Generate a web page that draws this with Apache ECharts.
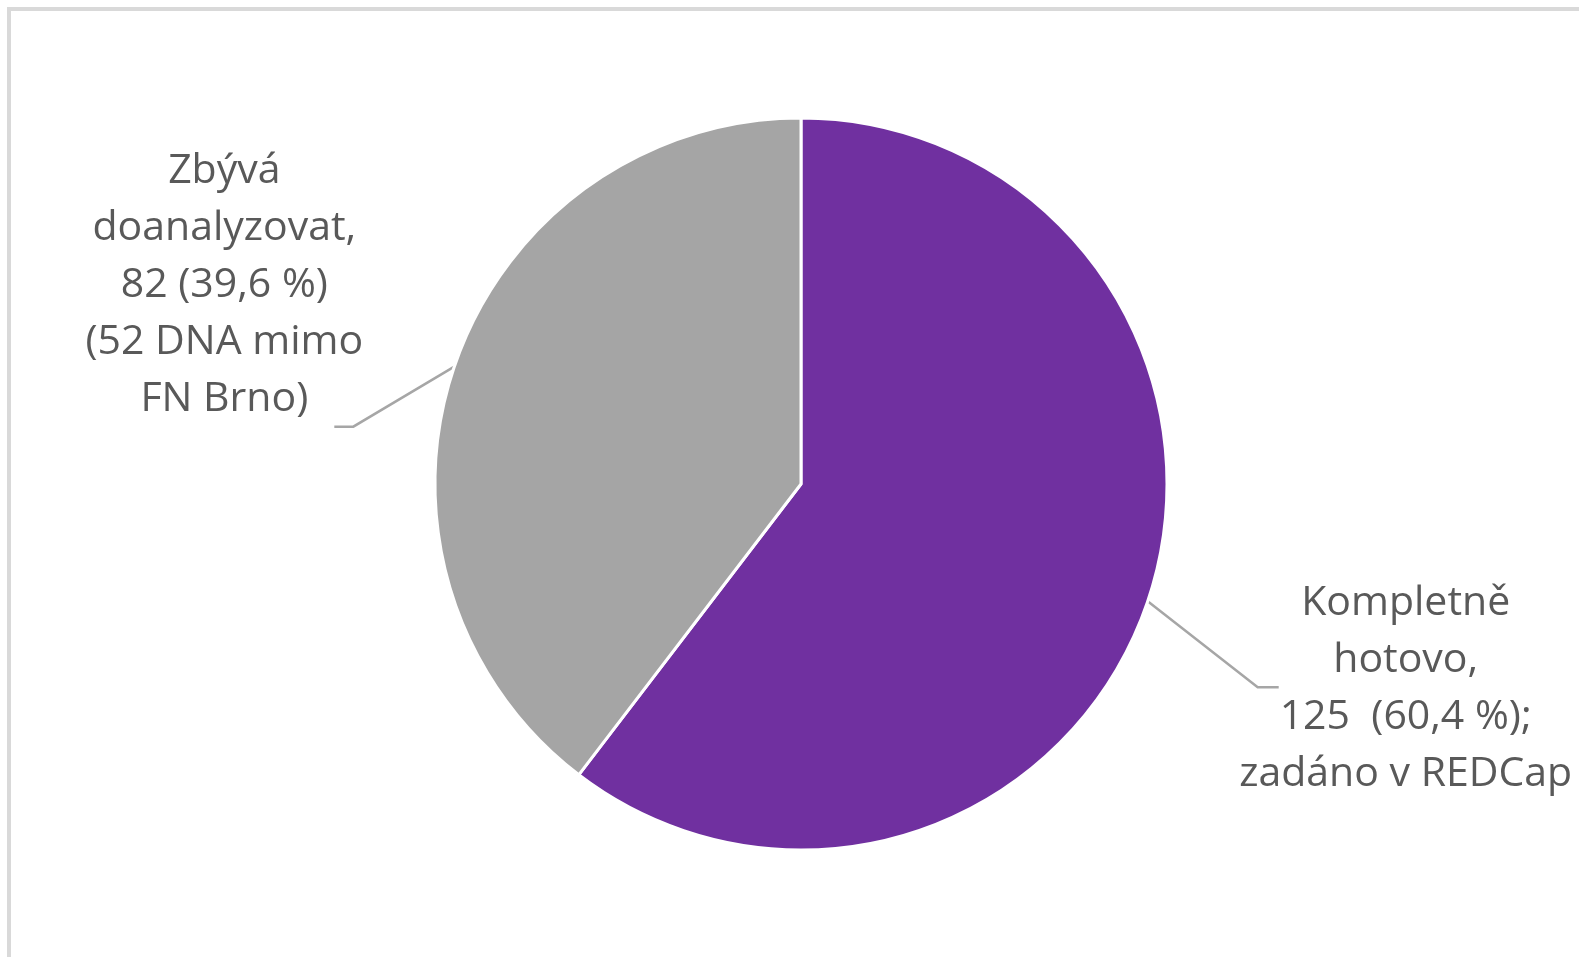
<!DOCTYPE html>
<html>
<head>
<meta charset="utf-8">
<script src="https://cdn.jsdelivr.net/npm/echarts@6/dist/echarts.min.js"></script>
<style>
  html, body { margin: 0; padding: 0; background: #fff; }
  .frame {
    position: absolute;
    left: 7px;
    top: 7px;
    width: 1600px;
    height: 1000px;
    border-top: 4px solid #d9d9d9;
    border-left: 4px solid #d9d9d9;
  }
  #chart { position: absolute; left: 0; top: 0; width: 1579px; height: 957px; }
</style>
</head>
<body>
<div class="frame"></div>
<div id="chart"></div>
<script>
// data
const categories = ["Kompletně hotovo", "Zbývá doanalyzovat"];
const counts = [125, 82];
const colors = ["#7030a0", "#a5a5a5"];
const labelTexts = [
  ["Kompletně", "hotovo,", "125  (60,4 %);", "zadáno v REDCap"],
  ["Zbývá", "doanalyzovat,", "82 (39,6 %)", "(52 DNA mimo", "FN Brno)"]
];

const chart = echarts.init(document.getElementById("chart"));

const pieCenter = [801, 484];

const option = {
  animation: false,
  series: [
    {
      type: "pie",
      center: pieCenter,
      radius: 366,
      startAngle: 90,
      clockwise: true,
      avoidLabelOverlap: false,
      itemStyle: { borderColor: "#fff", borderWidth: 3 },
      label: {
        show: true,
        position: "outside",
        color: "#595959",
        fontFamily: "Open Sans",
        fontSize: 41,
        lineHeight: 57,
        align: "center",
        formatter: (p) => labelTexts[p.dataIndex].join("\n")
      },
      labelLine: {
        show: true,
        length: 20,
        length2: 20,
        lineStyle: { color: "#a6a6a6", width: 2.5 }
      },
      // Excel-like leader lines: short diagonal then a short horizontal tick
      labelLayout: (params) => {
        const pts = params.labelLinePoints;
        if (!pts) return {};
        const start = pts[0];
        const left = start[0] < pieCenter[0];
        const bend = left
          ? [start[0] - 101, start[1] + 60]
          : [start[0] + 110, start[1] + 86];
        const end = left ? [bend[0] - 19, bend[1]] : [bend[0] + 21, bend[1]];
        return {
          x: left ? end[0] - 110 : end[0] + 127,
          y: left ? end[1] - 141 : end[1] + 2,
          align: "center",
          verticalAlign: "middle",
          labelLinePoints: [start, bend, end]
        };
      },
      emphasis: { disabled: true },
      data: categories.map((name, i) => ({
        name: name,
        value: counts[i],
        itemStyle: { color: colors[i] }
      }))
    }
  ]
};

chart.setOption(option);
</script>
</body>
</html>
